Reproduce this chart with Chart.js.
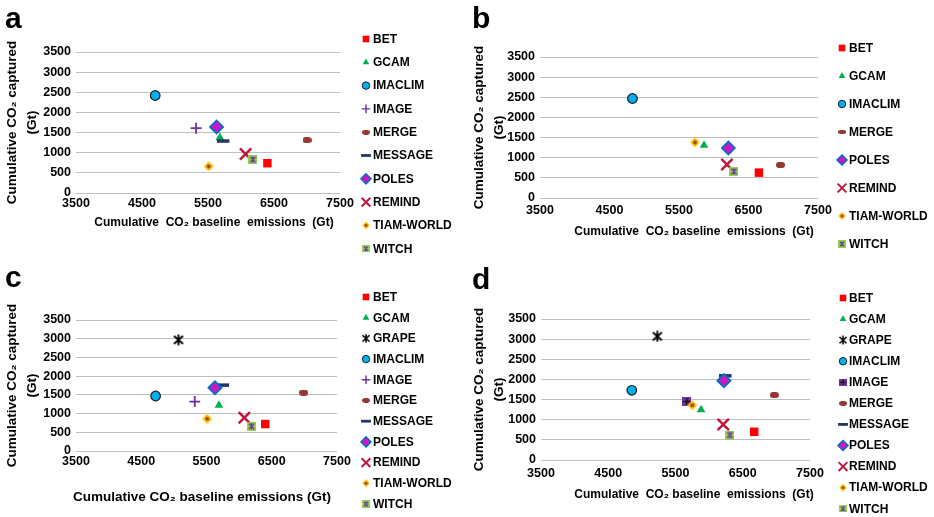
<!DOCTYPE html>
<html>
<head>
<meta charset="utf-8">
<script src="https://cdn.jsdelivr.net/npm/chart.js@4.4.1/dist/chart.umd.min.js"></script>
<style>
    body { margin: 0; background: #fff; width: 934px; height: 517px; position: relative; overflow: hidden; }
    .panel { position: absolute; width: 467px; }
</style>
</head>
<body>
<div class="panel" style="left:0;top:0;height:258px"><canvas id="chartA"></canvas></div>
<div class="panel" style="left:467px;top:0;height:258px"><canvas id="chartB"></canvas></div>
<div class="panel" style="left:0;top:258px;height:259px"><canvas id="chartC"></canvas></div>
<div class="panel" style="left:467px;top:258px;height:259px"><canvas id="chartD"></canvas></div>
<script>
"use strict";

// データ（各パネル）
const modelsA = ['BET', 'GCAM', 'IMACLIM', 'IMAGE', 'MERGE', 'MESSAGE', 'POLES', 'REMIND', 'TIAM-WORLD', 'WITCH'];
const emissionsA = [6400, 5680, 4700, 5320, 7000, 5730, 5630, 6070, 5510, 6180];
const capturedA = [740, 1380, 2420, 1610, 1310, 1290, 1640, 970, 660, 830];

const modelsB = ['BET', 'GCAM', 'IMACLIM', 'MERGE', 'POLES', 'REMIND', 'TIAM-WORLD', 'WITCH'];
const emissionsB = [6650, 5860, 4830, 6960, 6210, 6190, 5730, 6290];
const capturedB = [630, 1310, 2470, 820, 1240, 830, 1380, 660];

const modelsC = ['BET', 'GCAM', 'GRAPE', 'IMACLIM', 'IMAGE', 'MERGE', 'MESSAGE', 'POLES', 'REMIND', 'TIAM-WORLD', 'WITCH'];
const emissionsC = [6400, 5690, 5070, 4720, 5320, 6990, 5750, 5630, 6080, 5510, 6190];
const capturedC = [720, 1220, 2970, 1470, 1320, 1560, 1760, 1690, 890, 860, 660];

const modelsD = ['BET', 'GCAM', 'GRAPE', 'IMACLIM', 'IMAGE', 'MERGE', 'MESSAGE', 'POLES', 'REMIND', 'TIAM-WORLD', 'WITCH'];
const emissionsD = [6670, 5880, 5230, 4850, 5670, 6970, 6240, 6220, 6210, 5750, 6310];
const capturedD = [700, 1250, 3070, 1730, 1450, 1610, 2090, 1970, 880, 1360, 620];

const xMin = 3500, xMax = 7500, xStep = 1000;
const yMin = 0, yMax = 3500, yStep = 500;

const FONT = '"Liberation Sans", Arial, Helvetica, sans-serif';

// マーカー画像
function makeMarker(w, h, draw) {
    const c = document.createElement('canvas');
    c.width = w;
    c.height = h;
    draw(c.getContext('2d'), w, h);
    return c;
}

const mergePill = makeMarker(9, 6, function (g, w, h) {
    const r = h / 2;
    g.fillStyle = '#953735';
    g.beginPath();
    g.arc(r, r, r, Math.PI / 2, Math.PI * 1.5);
    g.arc(w - r, r, r, -Math.PI / 2, Math.PI / 2);
    g.closePath();
    g.fill();
});

const tiamDiamond = makeMarker(10, 10, function (g, w, h) {
    g.fillStyle = '#ffc000';
    g.beginPath();
    g.moveTo(w / 2, 0);
    g.lineTo(w, h / 2);
    g.lineTo(w / 2, h);
    g.lineTo(0, h / 2);
    g.closePath();
    g.fill();
    g.fillStyle = '#9a4a2c';
    g.beginPath();
    g.arc(w / 2, h / 2, 2, 0, Math.PI * 2);
    g.fill();
});

const witchSquare = makeMarker(9, 9, function (g, w, h) {
    g.fillStyle = '#92d050';
    g.fillRect(0, 0, w, h);
    g.strokeStyle = '#7030a0';
    g.lineWidth = 1.3;
    g.beginPath();
    g.moveTo(w / 2, 1.2); g.lineTo(w / 2, h - 1.2);
    g.moveTo(1.8, 1.8); g.lineTo(w - 1.8, h - 1.8);
    g.moveTo(w - 1.8, 1.8); g.lineTo(1.8, h - 1.8);
    g.stroke();
});

const grapeStar = makeMarker(12, 12, function (g, w, h) {
    g.strokeStyle = '#000';
    g.lineWidth = 1.8;
    g.beginPath();
    g.moveTo(w / 2, 0.5); g.lineTo(w / 2, h - 0.5);
    g.moveTo(1.5, 2); g.lineTo(w - 1.5, h - 2);
    g.moveTo(w - 1.5, 2); g.lineTo(1.5, h - 2);
    g.stroke();
});

const imageSquare = makeMarker(9, 9, function (g, w, h) {
    g.fillStyle = '#7030a0';
    g.fillRect(0, 0, w, h);
    g.strokeStyle = '#111';
    g.lineWidth = 1.5;
    g.beginPath();
    g.moveTo(w / 2, 1); g.lineTo(w / 2, h - 1);
    g.moveTo(1, h / 2); g.lineTo(w - 1, h / 2);
    g.stroke();
});

// モデルごとの見た目
const markerStyles = {
    'BET': { pointStyle: 'rect', radius: 6, bg: '#ff0000', border: '#ff0000', bw: 0 },
    'GCAM': { pointStyle: 'triangle', radius: 5, bg: '#00b050', border: '#00b050', bw: 0 },
    'GRAPE': { pointStyle: grapeStar, radius: 5 },
    'IMACLIM': { pointStyle: 'circle', radius: 4.8, bg: '#00b0f0', border: '#1a1a1a', bw: 1.2 },
    'IMAGE': { pointStyle: 'cross', radius: 5.5, bg: '#7030a0', border: '#7030a0', bw: 1.8 },
    'MERGE': { pointStyle: mergePill, radius: 5 },
    'MESSAGE': { pointStyle: 'line', radius: 6.3, bg: '#1f3864', border: '#1f3864', bw: 3.5 },
    'POLES': { pointStyle: 'rectRot', radius: 6.5, bg: '#d214c8', border: '#0070c0', bw: 1.8 },
    'REMIND': { pointStyle: 'crossRot', radius: 8, bg: '#c0183c', border: '#c0183c', bw: 2.5 },
    'TIAM-WORLD': { pointStyle: tiamDiamond, radius: 5 },
    'WITCH': { pointStyle: witchSquare, radius: 5 }
};

// パネル文字・x軸タイトル・凡例
const extraText = {
    id: 'extraText',
    afterDraw(chart, args, opts) {
        const ctx = chart.ctx;
        ctx.save();
        ctx.fillStyle = '#000';
        ctx.textAlign = 'left';
        ctx.textBaseline = 'alphabetic';
        ctx.font = 'bold 30px ' + FONT;
        ctx.fillText(opts.letter, opts.letterPos[0], opts.letterPos[1]);

        ctx.textAlign = 'center';
        ctx.textBaseline = 'middle';
        ctx.font = 'bold ' + opts.xTitleSize + 'px ' + FONT;
        ctx.fillText(opts.xTitle, opts.xTitlePos[0], opts.xTitlePos[1]);

        const lg = opts.legend;
        const s = 0.78;
        chart.data.datasets.forEach(function (ds, i) {
            const y = lg.y + i * lg.gap;
            const ps = ds.pointStyle;
            if (typeof ps === 'object') {
                ctx.drawImage(ps, lg.markX - ps.width * s / 2, y - ps.height * s / 2, ps.width * s, ps.height * s);
            } else {
                ctx.fillStyle = ds.backgroundColor;
                ctx.strokeStyle = ds.borderColor;
                ctx.lineWidth = ds.borderWidth * 0.8;
                Chart.helpers.drawPoint(ctx, { pointStyle: ps, radius: ds.pointRadius * s, borderWidth: ds.borderWidth, rotation: 0 }, lg.markX, y);
            }
            ctx.fillStyle = '#000';
            ctx.textAlign = 'left';
            ctx.font = 'bold 12px ' + FONT;
            ctx.fillText(ds.label, lg.textX, y + 0.5);
        });
        ctx.restore();
    }
};

const panels = [
    {
        id: 'chartA', letter: 'a', letterPos: [5, 28], models: modelsA, xs: emissionsA, ys: capturedA,
        width: 467, height: 258, area: { left: 76, right: 340, top: 52, bottom: 193 }, tickPad: 3,
        xTitle: 'Cumulative  CO₂ baseline  emissions  (Gt)', xTitleSize: 12, xTitlePos: [214, 223],
        legend: { markX: 366, textX: 373, y: 39, gap: 23.3 }, overrides: {}
    },
    {
        id: 'chartB', letter: 'b', letterPos: [5, 28], models: modelsB, xs: emissionsB, ys: capturedB,
        width: 467, height: 258, area: { left: 73, right: 351, top: 57, bottom: 198 }, tickPad: 5,
        xTitle: 'Cumulative  CO₂ baseline  emissions  (Gt)', xTitleSize: 12, xTitlePos: [227, 232],
        legend: { markX: 375, textX: 382, y: 48, gap: 28 }, overrides: {}
    },
    {
        id: 'chartC', letter: 'c', letterPos: [5, 29], models: modelsC, xs: emissionsC, ys: capturedC,
        width: 467, height: 259, area: { left: 76, right: 337, top: 62, bottom: 193 }, tickPad: 3,
        xTitle: 'Cumulative CO₂ baseline emissions (Gt)', xTitleSize: 13.5, xTitlePos: [202, 239],
        legend: { markX: 366, textX: 373, y: 39, gap: 20.7 }, overrides: {}
    },
    {
        id: 'chartD', letter: 'd', letterPos: [5, 31], models: modelsD, xs: emissionsD, ys: capturedD,
        width: 467, height: 259, area: { left: 74, right: 343, top: 61, bottom: 202 }, tickPad: 6,
        xTitle: 'Cumulative  CO₂ baseline  emissions  (Gt)', xTitleSize: 12, xTitlePos: [227, 237],
        legend: { markX: 376, textX: 382, y: 40, gap: 21.07 },
        overrides: { 'IMAGE': { pointStyle: imageSquare, radius: 5 } }
    }
];

panels.forEach(function (p) {
    const n = p.models.length;
    const datasets = p.models.map(function (m, i) {
        const st = p.overrides[m] || markerStyles[m];
        return {
            label: m,
            data: [{ x: p.xs[i], y: p.ys[i] }],
            pointStyle: st.pointStyle,
            pointRadius: st.radius,
            pointHoverRadius: st.radius,
            backgroundColor: st.bg || '#000',
            borderColor: st.border || '#000',
            borderWidth: st.bw || 0,
            order: n - i
        };
    });

    new Chart(document.getElementById(p.id), {
        type: 'scatter',
        data: { datasets: datasets },
        options: {
            responsive: true,
            maintainAspectRatio: false,
            animation: false,
            layout: {
                padding: { left: 0, top: p.area.top, right: p.width - p.area.right, bottom: 0 }
            },
            plugins: {
                legend: { display: false },
                tooltip: { enabled: false },
                extraText: p
            },
            scales: {
                x: {
                    type: 'linear',
                    min: xMin, max: xMax,
                    ticks: {
                        stepSize: xStep, padding: p.tickPad, color: '#000',
                        font: { family: FONT, size: 12.5, weight: 'bold' },
                        callback: function (v) { return String(v); }
                    },
                    grid: { display: false, drawTicks: false },
                    border: { display: false },
                    afterFit: function (scale) { scale.height = p.height - p.area.bottom; }
                },
                y: {
                    min: yMin, max: yMax,
                    ticks: {
                        stepSize: yStep, padding: 5, color: '#000',
                        font: { family: FONT, size: 12.5, weight: 'bold' },
                        callback: function (v) { return String(v); }
                    },
                    grid: { color: '#bfbfbf', lineWidth: 1, drawTicks: false },
                    border: { display: false },
                    title: {
                        display: true,
                        text: ['Cumulative CO₂ captured', '(Gt)'],
                        color: '#000',
                        font: { family: FONT, size: 13.5, weight: 'bold', lineHeight: '20px' },
                        padding: { top: 2.5, bottom: 0 }
                    },
                    afterFit: function (scale) { scale.width = p.area.left; }
                }
            }
        },
        plugins: [extraText]
    });
});
</script>
</body>
</html>
